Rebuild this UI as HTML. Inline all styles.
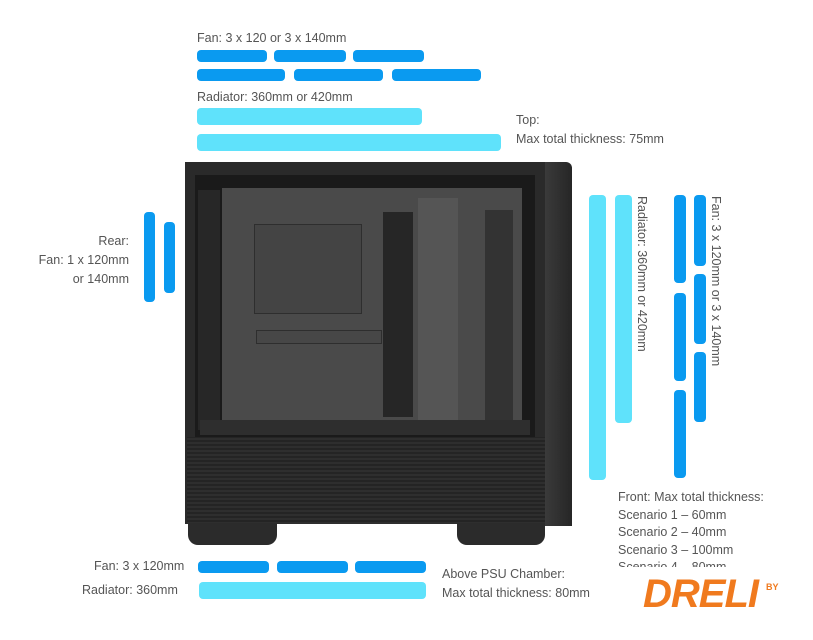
<!DOCTYPE html>
<html><head><style>
body{margin:0;width:813px;height:640px;background:#fff;position:relative;overflow:hidden;font-family:"Liberation Sans",sans-serif;color:#555;font-size:12.5px}
.b{position:absolute;border-radius:4px}
.d{background:#0a9af0}
.l{background:#5fe2fb}
.t{position:absolute;white-space:nowrap;line-height:17px}
.a{position:absolute}
</style></head><body>
<div class="t" style="left:197px;top:30px">Fan: 3 x 120 or 3 x 140mm</div>
<div class="b d" style="left:197px;top:50px;width:70px;height:12px"></div>
<div class="b d" style="left:274px;top:50px;width:72px;height:12px"></div>
<div class="b d" style="left:353px;top:50px;width:71px;height:12px"></div>
<div class="b d" style="left:197px;top:69px;width:88px;height:12px"></div>
<div class="b d" style="left:294px;top:69px;width:89px;height:12px"></div>
<div class="b d" style="left:392px;top:69px;width:89px;height:12px"></div>
<div class="t" style="left:197px;top:89px">Radiator: 360mm or 420mm</div>
<div class="b l" style="left:197px;top:108px;width:225px;height:17px"></div>
<div class="b l" style="left:197px;top:134px;width:304px;height:17px"></div>
<div class="t" style="left:516px;top:111px;line-height:19px">Top:<br>Max total thickness: 75mm</div>

<div class="t" style="left:30px;top:232px;text-align:right;width:99px;line-height:19px">Rear:<br>Fan: 1 x 120mm<br>or 140mm</div>
<div class="b d" style="left:144px;top:212px;width:11px;height:90px"></div>
<div class="b d" style="left:164px;top:222px;width:11px;height:71px"></div>

<!-- case -->
<div class="a" style="left:185px;top:162px;width:362px;height:362px;background:#2a2a2a"></div>
<div class="a" style="left:545px;top:162px;width:27px;height:364px;background:linear-gradient(90deg,#3a3a3a,#262626);border-radius:0 6px 0 0"></div>
<div class="a" style="left:195px;top:175px;width:340px;height:262px;background:#1a1a1a"></div>
<div class="a" style="left:222px;top:188px;width:300px;height:245px;background:#4a4a4a"></div>
<div class="a" style="left:254px;top:224px;width:106px;height:88px;background:#444;border:1px solid #2e2e2e"></div>
<div class="a" style="left:256px;top:330px;width:124px;height:12px;background:#474747;border:1px solid #2e2e2e"></div>
<div class="a" style="left:383px;top:212px;width:30px;height:205px;background:#262626"></div>
<div class="a" style="left:418px;top:198px;width:40px;height:225px;background:#555"></div>
<div class="a" style="left:485px;top:210px;width:28px;height:225px;background:#333"></div>
<div class="a" style="left:198px;top:190px;width:22px;height:240px;background:#272727"></div>
<div class="a" style="left:200px;top:420px;width:330px;height:15px;background:#2e2e2e"></div>
<div class="a" style="left:187px;top:437px;width:358px;height:87px;background:repeating-linear-gradient(0deg,#2e2e2e 0 2px,#242424 2px 4px)"></div>
<div class="a" style="left:188px;top:523px;width:89px;height:22px;background:#2b2b2b;border-radius:0 0 10px 10px"></div>
<div class="a" style="left:457px;top:523px;width:88px;height:22px;background:#2b2b2b;border-radius:0 0 10px 10px"></div>

<!-- right -->
<div class="b l" style="left:589px;top:195px;width:17px;height:285px"></div>
<div class="b l" style="left:615px;top:195px;width:17px;height:228px"></div>
<div class="t" style="left:633px;top:196px;transform-origin:0 0;transform:rotate(90deg) translate(0,-17px)">Radiator: 360mm or 420mm</div>
<div class="b d" style="left:674px;top:195px;width:12px;height:88px"></div>
<div class="b d" style="left:674px;top:293px;width:12px;height:88px"></div>
<div class="b d" style="left:674px;top:390px;width:12px;height:88px"></div>
<div class="b d" style="left:694px;top:195px;width:12px;height:71px"></div>
<div class="b d" style="left:694px;top:274px;width:12px;height:70px"></div>
<div class="b d" style="left:694px;top:352px;width:12px;height:70px"></div>
<div class="t" style="left:724px;top:196px;transform-origin:0 0;transform:rotate(90deg)">Fan: 3 x 120mm or 3 x 140mm</div>
<div class="t" style="left:618px;top:489px;line-height:17.5px">Front: Max total thickness:<br>Scenario 1 – 60mm<br>Scenario 2 – 40mm<br>Scenario 3 – 100mm<br>Scenario 4 – 80mm</div>
<div class="a" style="left:600px;top:567px;width:213px;height:73px;background:#fff"></div>
<div class="a" style="left:643px;top:572px;font:italic bold 40px 'Liberation Sans',sans-serif;color:#f07a1e;letter-spacing:-1px">DRELI</div>
<div class="a" style="left:766px;top:582px;font:bold 9px 'Liberation Sans',sans-serif;color:#f07a1e">BY</div>

<!-- bottom -->
<div class="t" style="left:94px;top:558px">Fan: 3 x 120mm</div>
<div class="b d" style="left:198px;top:561px;width:71px;height:12px"></div>
<div class="b d" style="left:277px;top:561px;width:71px;height:12px"></div>
<div class="b d" style="left:355px;top:561px;width:71px;height:12px"></div>
<div class="t" style="left:82px;top:582px">Radiator: 360mm</div>
<div class="b l" style="left:199px;top:582px;width:227px;height:17px"></div>
<div class="t" style="left:442px;top:565px;line-height:19px">Above PSU Chamber:<br>Max total thickness: 80mm</div>
</body></html>
